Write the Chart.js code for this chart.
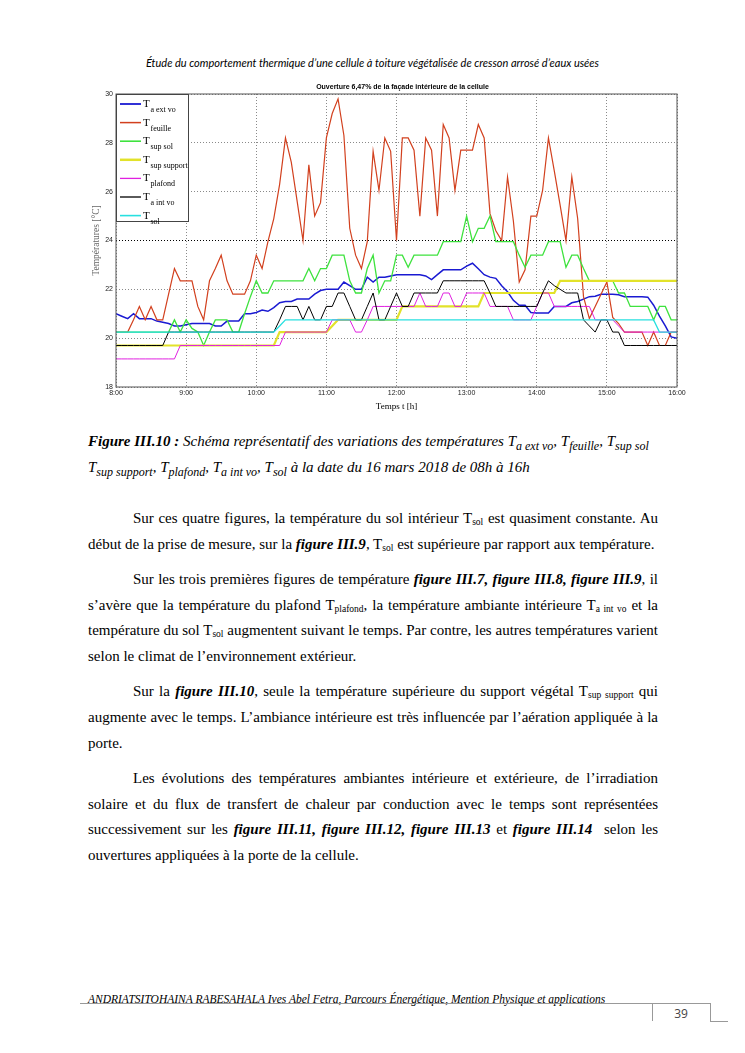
<!DOCTYPE html>
<html>
<head>
<meta charset="utf-8">
<script src="https://cdn.jsdelivr.net/npm/chart.js@4.4.0/dist/chart.umd.min.js"></script>
<style>
body{margin:0;background:#fff;width:745px;height:1053px;position:relative;overflow:hidden;font-family:"Liberation Serif",serif;color:#000}
#hdr{position:absolute;top:56px;left:0;width:745px;text-align:center;font:italic 11px Lato,sans-serif}
#wrap{position:absolute;left:80px;top:78px;width:630px;height:338px}
#cap{position:absolute;left:88px;top:431px;width:640px;font-style:italic;font-size:15px;line-height:21px;white-space:nowrap}
#cap sub{font-size:12px}
#txt{position:absolute;left:88px;top:506px;width:570px;font-size:15px;line-height:25.8px;text-align:justify}
#txt p{margin:0 0 9.2px;text-indent:45px}
#txt sub{font-size:9.5px;line-height:0;vertical-align:-2px}
#foot{position:absolute;left:88px;top:993px;font:italic 11.5px "Liberation Serif",serif}
.ln{position:absolute;background:#999}
#pg{position:absolute;left:652px;top:1005px;width:58px;text-align:center;font:12px "Open Sans",sans-serif;color:#444}
</style>
</head>
<body>
<div id="hdr">Étude du comportement thermique d’une cellule à toiture végétalisée de cresson arrosé d’eaux usées</div>
<div id="wrap"><canvas id="myChart" width="630" height="338"></canvas></div>
<div id="cap"><b>Figure III.10 :</b> Schéma représentatif des variations des températures T<sub>a ext vo</sub>, T<sub>feuille</sub>, T<sub>sup sol</sub><br>T<sub>sup support</sub>, T<sub>plafond</sub>, T<sub>a int vo</sub>, T<sub>sol</sub> à la date du 16 mars 2018 de 08h à 16h</div>
<div id="txt">
<p>Sur ces quatre figures, la température du sol intérieur T<sub>sol</sub> est quasiment constante. Au début de la prise de mesure, sur la <b><i>figure III.9</i></b>, T<sub>sol</sub> est supérieure par rapport aux température.</p>
<p>Sur les trois premières figures de température <b><i>figure III.7, figure III.8, figure III.9</i></b>, il s’avère que la température du plafond T<sub>plafond</sub>, la température ambiante intérieure T<sub>a int vo</sub> et la température du sol T<sub>sol</sub> augmentent suivant le temps. Par contre, les autres températures varient selon le climat de l’environnement extérieur.</p>
<p>Sur la <b><i>figure III.10</i></b>, seule la température supérieure du support végétal T<sub>sup support</sub> qui augmente avec le temps. L’ambiance intérieure est très influencée par l’aération appliquée à la porte.</p>
<p>Les évolutions des températures ambiantes intérieure et extérieure, de l’irradiation solaire et du flux de transfert de chaleur par conduction avec le temps sont représentées successivement sur les <b><i>figure III.11, figure III.12, figure III.13</i></b> et <b><i>figure III.14</i></b>&nbsp; selon les ouvertures appliquées à la porte de la cellule.</p>
</div>
<div id="foot">ANDRIATSITOHAINA RABESAHALA Ives Abel Fetra, Parcours Énergétique, Mention Physique et applications</div>
<div class="ln" style="left:80px;top:1003px;width:630px;height:1px"></div>
<div class="ln" style="left:652px;top:1003px;width:1px;height:18px"></div>
<div class="ln" style="left:710px;top:1003px;width:1px;height:18px"></div>
<div class="ln" style="left:710px;top:1021px;width:18px;height:1px"></div>
<div id="pg">39</div>
<script>
// mesures toutes les 5 minutes, de 8:00 a 16:00
const stepMin = 5;
const hourTicks = ["8:00", "9:00", "10:00", "11:00", "12:00", "13:00", "14:00", "15:00", "16:00"];

const tExtVo = [
  21.0, 20.9, 20.8, 21.0, 20.8, 20.8, 20.8, 20.7, 20.65, 20.6, 20.5, 20.5,
  20.55, 20.6, 20.6, 20.6, 20.6, 20.5, 20.5, 20.7, 20.7, 20.7, 21.0, 21.0,
  21.05, 21.15, 21.1, 21.25, 21.45, 21.5, 21.5, 21.6, 21.6, 21.6, 21.8, 21.95,
  22.0, 22.0, 22.0, 22.3, 22.15, 22.0, 22.0, 22.5, 22.3, 22.5, 22.5, 22.55,
  22.6, 22.6, 22.6, 22.6, 22.6, 22.55, 22.4, 22.6, 22.8, 22.8, 22.8, 22.8,
  22.95, 23.07, 22.84, 22.6, 22.5, 22.45, 22.15, 21.9, 21.55, 21.35, 21.35, 21.05,
  21.03, 21.03, 21.03, 21.3, 21.3, 21.3, 21.45, 21.5, 21.6, 21.7, 21.72, 21.8,
  21.8, 21.8, 21.78, 21.7, 21.7, 21.7, 21.7, 21.68, 21.35, 20.9, 20.5, 20.05,
  20.0
];
const tFeuille = [
  20.25, 20.25, 20.25, 20.75, 21.3, 20.75, 21.3, 20.75, 20.75, 21.8, 22.85, 22.35,
  22.35, 22.35, 21.3, 20.75, 22.35, 22.85, 23.4, 22.35, 21.8, 21.8, 21.8, 22.35,
  23.4, 22.85, 23.95, 24.9, 26.3, 28.2, 27.2, 25.6, 24.0, 27.1, 25.0, 25.55,
  28.2, 29.2, 29.8, 28.3, 24.5, 23.4, 22.85, 23.95, 27.65, 26.05, 28.2, 27.65,
  24.0, 28.2, 28.2, 27.7, 25.0, 28.2, 27.7, 25.0, 28.75, 28.2, 26.05, 27.7,
  27.7, 27.7, 28.75, 28.2, 25.1, 24.4, 24.0, 26.6, 24.8, 22.3, 22.8, 25.0,
  25.0, 26.05, 28.2, 26.85, 25.45, 24.0, 26.6, 24.9, 21.7, 20.8, 21.3, 21.8,
  22.3, 20.85, 20.6, 20.25, 20.25, 20.25, 20.25, 19.7, 20.25, 19.7, 19.7, 20.25,
  20.25
];
const tSupSol = [
  20.25, 20.25, 20.25, 20.25, 20.25, 20.25, 20.25, 20.25, 20.25, 20.25, 20.75, 20.25,
  20.75, 20.4, 20.25, 19.7, 20.25, 20.75, 20.75, 20.75, 20.25, 20.25, 21.0, 21.7,
  22.35, 21.85, 21.85, 22.35, 22.35, 22.35, 22.35, 22.35, 22.35, 22.85, 22.35, 22.85,
  22.85, 23.4, 23.4, 23.4, 22.35, 21.85, 21.85, 22.85, 23.4, 21.85, 22.35, 22.35,
  23.4, 23.4, 22.9, 23.4, 23.4, 23.4, 23.4, 23.4, 23.95, 23.95, 23.95, 23.95,
  25.0, 23.95, 24.5, 24.5, 25.0, 23.95, 23.95, 23.95, 23.95, 23.4, 22.9, 23.4,
  23.4, 23.4, 23.95, 23.95, 23.95, 22.9, 23.4, 23.4, 22.85, 22.35, 22.35, 22.35,
  22.35, 22.35, 21.85, 21.85, 21.3, 21.3, 21.3, 21.3, 20.75, 21.3, 21.3, 20.75,
  20.75
];
const tSupSupport = [
  19.7, 19.7, 19.7, 19.7, 19.7, 19.7, 19.7, 19.7, 19.7, 19.7, 19.7, 19.7,
  19.7, 19.7, 19.7, 19.7, 19.7, 19.7, 19.7, 19.7, 19.7, 19.7, 19.7, 19.7,
  19.7, 19.7, 19.7, 19.7, 20.25, 20.25, 20.25, 20.25, 20.25, 20.25, 20.25, 20.25,
  20.25, 20.5, 20.75, 20.75, 20.75, 20.75, 20.75, 20.75, 20.75, 20.75, 20.75, 20.75,
  20.75, 21.3, 21.3, 21.3, 21.3, 21.3, 21.3, 21.3, 21.3, 21.3, 21.3, 21.3,
  21.3, 21.3, 21.3, 21.85, 21.85, 21.85, 21.85, 21.85, 21.85, 21.85, 21.85, 21.85,
  21.85, 21.85, 21.85, 21.85, 22.35, 22.35, 22.35, 22.35, 22.35, 22.35, 22.35, 22.35,
  22.35, 22.35, 22.35, 22.35, 22.35, 22.35, 22.35, 22.35, 22.35, 22.35, 22.35, 22.35,
  22.35
];
const tPlafond = [
  19.15, 19.15, 19.15, 19.15, 19.15, 19.15, 19.15, 19.15, 19.15, 19.15, 19.15, 19.7,
  19.7, 19.7, 19.7, 19.7, 19.7, 19.7, 19.7, 19.7, 19.7, 19.7, 19.7, 19.7,
  19.7, 19.7, 19.7, 19.7, 19.7, 20.25, 20.25, 20.25, 20.25, 20.25, 20.25, 20.25,
  20.25, 20.75, 20.75, 20.75, 20.75, 20.25, 20.25, 20.75, 21.3, 21.3, 21.3, 21.3,
  21.3, 21.3, 21.3, 21.3, 21.85, 21.3, 21.3, 21.3, 21.85, 21.85, 21.3, 21.3,
  21.85, 21.85, 21.85, 21.85, 21.3, 21.3, 21.3, 21.3, 20.75, 20.75, 20.75, 20.75,
  21.3, 21.85, 21.85, 21.3, 21.3, 21.3, 21.3, 21.3, 21.3, 21.3, 20.75, 20.75,
  20.75, 20.75, 20.5, 20.25, 20.25, 20.25, 20.25, 20.25, 20.25, 20.25, 20.25, 20.25,
  20.25
];
const tIntVo = [
  19.7, 19.7, 19.7, 19.7, 19.7, 19.7, 19.7, 19.7, 19.7, 20.25, 20.25, 20.25,
  20.25, 20.25, 20.25, 20.25, 20.25, 20.25, 20.25, 20.25, 20.25, 20.25, 20.25, 20.25,
  20.25, 20.25, 20.25, 20.25, 20.75, 21.3, 21.3, 21.3, 20.75, 21.3, 20.75, 20.75,
  21.3, 21.3, 21.85, 21.85, 21.3, 20.75, 20.75, 21.3, 21.85, 20.75, 20.75, 21.3,
  21.85, 21.3, 21.3, 21.85, 21.85, 21.85, 21.85, 21.85, 22.35, 22.35, 22.35, 22.35,
  22.35, 22.35, 22.35, 22.35, 21.85, 21.3, 21.3, 21.3, 21.3, 21.3, 21.3, 21.3,
  21.3, 21.85, 22.35, 22.15, 22.0, 21.85, 21.85, 21.85, 20.75, 20.5, 20.25, 20.75,
  20.75, 20.25, 20.25, 19.7, 19.7, 19.7, 19.7, 19.7, 19.7, 19.7, 19.7, 19.7,
  19.7
];
const tSol = [
  20.25, 20.25, 20.25, 20.25, 20.25, 20.25, 20.25, 20.25, 20.25, 20.25, 20.25, 20.25,
  20.25, 20.25, 20.25, 20.25, 20.25, 20.25, 20.25, 20.25, 20.25, 20.25, 20.25, 20.25,
  20.25, 20.25, 20.25, 20.25, 20.5, 20.75, 20.75, 20.75, 20.75, 20.75, 20.75, 20.75,
  20.75, 20.75, 20.75, 20.75, 20.75, 20.75, 20.75, 20.75, 20.75, 20.75, 20.75, 20.75,
  20.75, 20.75, 20.75, 20.75, 20.75, 20.75, 20.75, 20.75, 20.75, 20.75, 20.75, 20.75,
  20.75, 20.75, 20.75, 20.75, 20.75, 20.75, 20.75, 20.75, 20.75, 20.75, 20.75, 20.75,
  20.75, 20.75, 20.75, 20.75, 20.75, 20.75, 20.75, 20.75, 20.75, 20.75, 20.75, 20.75,
  20.75, 20.75, 20.75, 20.75, 20.75, 20.75, 20.75, 20.75, 20.75, 20.25, 20.25, 20.25,
  20.25
];

const series = [
  { sub: "a ext vo", data: tExtVo, color: "#1a1ad2", w: 1.5 },
  { sub: "feuille", data: tFeuille, color: "#d2401e", w: 1.2 },
  { sub: "sup sol", data: tSupSol, color: "#3ee23e", w: 1.3 },
  { sub: "sup support", data: tSupSupport, color: "#e2e22a", w: 2.2 },
  { sub: "plafond", data: tPlafond, color: "#e020e0", w: 1 },
  { sub: "a int vo", data: tIntVo, color: "#000000", w: 1 },
  { sub: "sol", data: tSol, color: "#28e0e0", w: 1.3 },
];

// cadre + titre + legende facon matlab
let matlabBox = {
  id: "matlabBox",
  afterDraw(chart) {
    let ctx = chart.ctx;
    let a = chart.chartArea;
    ctx.save();
    ctx.strokeStyle = "#555";
    ctx.lineWidth = 1;
    ctx.strokeRect(a.left, a.top, a.right - a.left, a.bottom - a.top);

    ctx.fillStyle = "#000";
    ctx.font = "bold 7px 'Liberation Sans'";
    ctx.textAlign = "center";
    ctx.fillText("Ouverture 6,47% de la façade intérieure de la cellule", (a.left + a.right) / 2 + 6, a.top - 5);

    ctx.textAlign = "left";
    ctx.fillStyle = "#fff";
    ctx.fillRect(a.left, a.top, 73, 128);
    ctx.strokeStyle = "#444";
    ctx.strokeRect(a.left + 0.5, a.top + 0.5, 72, 127);
    series.forEach((s, i) => {
      let y = a.top + 10 + i * 18.6;
      ctx.strokeStyle = s.color;
      ctx.lineWidth = s.w + 0.3;
      ctx.beginPath();
      ctx.moveTo(a.left + 4, y);
      ctx.lineTo(a.left + 25, y);
      ctx.stroke();
      ctx.fillStyle = "#000";
      ctx.font = "11px 'Liberation Serif'";
      ctx.fillText("T", a.left + 27, y + 3);
      ctx.font = "8px 'Liberation Serif'";
      ctx.fillText(s.sub, a.left + 34.5, y + 8);
    });
    ctx.restore();
  },
};

let ctx = document.getElementById("myChart").getContext("2d");
let myChart = new Chart(ctx, {
  type: "line",
  data: {
    datasets: series.map((s, i) => ({
      label: "T " + s.sub,
      data: s.data.map((v, k) => ({ x: 8 + (k * stepMin) / 60, y: v })),
      borderColor: s.color,
      backgroundColor: s.color,
      borderWidth: s.w,
      pointRadius: 0,
      tension: 0,
      fill: false,
      order: series.length - i,
    })),
  },
  options: {
    responsive: false,
    animation: false,
    layout: { padding: { top: 16, right: 33 } },
    plugins: {
      legend: { display: false },
      tooltip: { enabled: false },
    },
    scales: {
      x: {
        type: "linear",
        min: 8,
        max: 16,
        afterFit: (s) => { s.height = 29; },
        ticks: {
          stepSize: 1,
          color: "#222",
          font: { size: 7, family: "Liberation Sans" },
          padding: 2,
          maxRotation: 0,
          callback: (v) => hourTicks[v - 8],
        },
        grid: { color: "#8a8a8a", drawTicks: false },
        border: { display: false, dash: [1, 2] },
        title: {
          display: true,
          text: "Temps t [h]",
          color: "#000",
          font: { size: 9, family: "Liberation Serif" },
          padding: { top: 0, bottom: 4 },
        },
      },
      y: {
        min: 18,
        max: 30,
        afterFit: (s) => { s.width = 36; },
        ticks: {
          stepSize: 2,
          color: "#222",
          font: { size: 7, family: "Liberation Sans" },
          padding: 3,
        },
        grid: {
          color: (c) => (c.tick && c.tick.value === 24 ? "#000" : "#8a8a8a"),
          drawTicks: false,
        },
        border: { display: false, dash: [1, 2] },
        title: {
          display: true,
          text: "Températures [°C]",
          color: "#666",
          font: { size: 9.5, family: "Liberation Serif" },
          padding: { top: 11, bottom: 0 },
        },
      },
    },
  },
  plugins: [matlabBox],
});
</script>
</body>
</html>
